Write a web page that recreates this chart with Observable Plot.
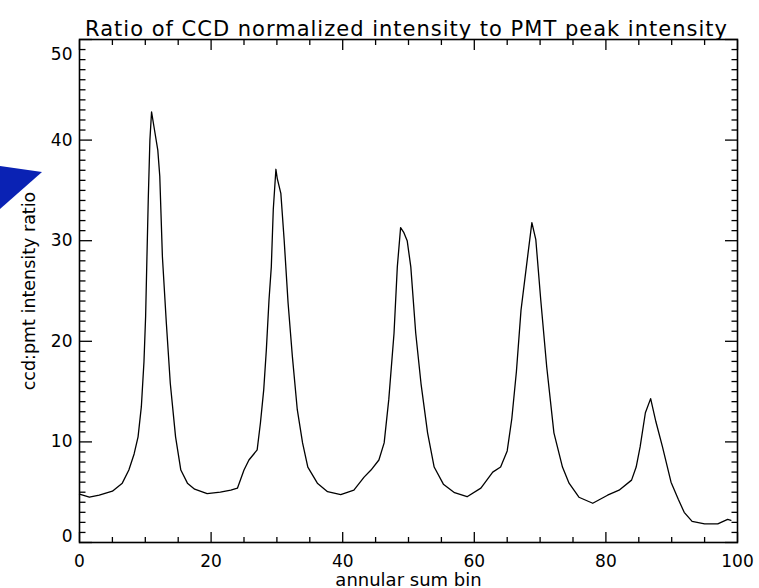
<!DOCTYPE html>
<html>
<head>
<meta charset="utf-8">
<script src="https://cdn.jsdelivr.net/npm/d3@7"></script>
<script src="https://cdn.jsdelivr.net/npm/@observablehq/plot@0.6"></script>
<style>
  html, body { margin: 0; padding: 0; background: #ffffff; }
  #wrap { position: relative; width: 759px; height: 588px; overflow: hidden; }
  #tri { position: absolute; left: 0; top: 0; width: 759px; height: 588px; background: #0a22b4;
         clip-path: polygon(0px 166px, 42px 172px, 0px 209px); z-index: 2; pointer-events: none; }
</style>
</head>
<body>
<div id="wrap"><div id="tri"></div></div>
<script>
const titleText = "Ratio of CCD normalized intensity to PMT peak intensity";
const xLabel = "annular sum bin";
const yLabel = "ccd:pmt intensity ratio";

const xMajor = [0, 20, 40, 60, 80, 100];
const xMinor = [5, 10, 15, 25, 30, 35, 45, 50, 55, 65, 70, 75, 85, 90, 95];
const yMajor = [0, 10, 20, 30, 40, 50];
const yMinor = d3.range(0, 51).filter(v => v % 10 !== 0);

const bins = [0, 1.5, 3, 5, 6.5, 7.5, 8.3, 8.9, 9.4, 9.8, 10.05, 10.25, 10.45, 10.7, 10.95,
  11.3, 11.9, 12.2, 12.6, 13.2, 13.8, 14.6, 15.4, 16.4, 17.5, 19.4, 21.4, 23.0, 24.0,
  25.0, 25.75, 27.0, 27.5, 28.0, 28.4, 28.8, 29.15, 29.45, 29.85, 30.05, 30.6, 31.1, 31.7,
  32.35, 33.1, 33.9, 34.7, 36.15, 37.7, 39.7, 41.7, 43.25, 44.3, 45.5, 46.3, 47.0, 47.8,
  48.3, 48.8, 49.3, 49.8, 50.35, 51.1, 51.9, 52.9, 53.9, 55.3, 57.0, 58.9, 61.0, 62.8,
  64.0, 65.0, 65.7, 66.4, 67.1, 68.1, 68.75, 69.35, 70.1, 71.0, 72.1, 73.4, 74.4, 75.9,
  78.0, 80.25, 82.0, 83.9, 84.6, 85.2, 86.0, 86.8, 87.6, 88.6, 89.9, 91.0, 91.9, 93.1,
  95.0, 97.0, 98.5, 99.0];
const ratios = [4.8, 4.5, 4.7, 5.1, 5.9, 7.2, 8.8, 10.5, 13.5, 18.0, 22.5, 28.4, 34.1, 40.0, 42.8,
  41.4, 39.0, 36.4, 28.4, 21.8, 15.8, 10.5, 7.2, 5.9, 5.3, 4.85, 5.0, 5.2, 5.4,
  7.2, 8.2, 9.2, 11.9, 15.2, 19.2, 24.1, 27.4, 33.1, 37.1, 36.2, 34.7, 30.1, 23.8,
  18.5, 13.2, 9.9, 7.5, 5.9, 5.05, 4.75, 5.2, 6.5, 7.2, 8.2, 9.9, 14.2, 20.8,
  27.4, 31.3, 30.8, 30.0, 27.4, 20.8, 15.8, 10.9, 7.5, 5.8, 4.95, 4.55, 5.4, 7.0,
  7.5, 9.1, 12.3, 17.0, 23.1, 28.4, 31.8, 30.1, 24.1, 17.5, 10.9, 7.5, 5.9, 4.5,
  3.9, 4.7, 5.2, 6.2, 7.5, 9.5, 12.9, 14.3, 12.0, 9.5, 6.0, 4.3, 3.0, 2.1,
  1.85, 1.85, 2.3, 2.2];

const points = bins.map((b, i) => ({bin: b, ratio: ratios[i]}));

const font = "DejaVu Sans";
const tickCommon = {fill: "none", label: null, stroke: "black", strokeWidth: 1.3};
const textCommon = {tickSize: 0, label: null, fontSize: 17, fill: "black"};

const chart = Plot.plot({
  width: 759,
  height: 588,
  marginLeft: 79,
  marginRight: 22,
  marginTop: 39,
  marginBottom: 46,
  style: {fontFamily: font, fontSize: "17px", background: "transparent", color: "black"},
  x: {domain: [0, 100], axis: null},
  y: {domain: [0, 50], axis: null},
  marks: [
    Plot.frame({stroke: "black", strokeWidth: 1.6}),
    // inward ticks, bottom / top
    Plot.axisX({anchor: "bottom", ticks: xMajor, tickSize: 10, dy: -10, ...tickCommon}),
    Plot.axisX({anchor: "bottom", ticks: xMinor, tickSize: 5, dy: -5, ...tickCommon}),
    Plot.axisX({anchor: "top", ticks: xMajor, tickSize: 10, dy: 10, ...tickCommon}),
    Plot.axisX({anchor: "top", ticks: xMinor, tickSize: 5, dy: 5, ...tickCommon}),
    // inward ticks, left / right
    Plot.axisY({anchor: "left", ticks: yMajor, tickSize: 13, dx: 13, ...tickCommon}),
    Plot.axisY({anchor: "left", ticks: yMinor, tickSize: 6.5, dx: 6.5, ...tickCommon}),
    Plot.axisY({anchor: "right", ticks: yMajor, tickSize: 13, dx: -13, ...tickCommon}),
    Plot.axisY({anchor: "right", ticks: yMinor, tickSize: 6.5, dx: -6.5, ...tickCommon}),
    // tick labels
    Plot.axisX({anchor: "bottom", ticks: xMajor, tickPadding: 12, tickFormat: d => String(d), ...textCommon}),
    Plot.axisY({anchor: "left", ticks: [10, 20, 30, 40], tickPadding: 7, tickFormat: d => String(d), ...textCommon}),
    Plot.axisY({anchor: "left", ticks: [50], tickPadding: 7, dy: 15, tickFormat: d => String(d), ...textCommon}),
    Plot.axisY({anchor: "left", ticks: [0], tickPadding: 7, dy: -6, tickFormat: d => String(d), ...textCommon}),
    // data
    Plot.line(points, {x: "bin", y: "ratio", stroke: "black", strokeWidth: 1.3}),
    // title and axis labels
    Plot.text([titleText], {frameAnchor: "top", textAnchor: "middle", lineAnchor: "bottom", dy: -4, dx: -2,
      fontSize: 21, fill: "black"}),
    Plot.text([xLabel], {frameAnchor: "bottom", textAnchor: "middle", lineAnchor: "bottom", dy: 43, fontSize: 18, fill: "black"}),
    Plot.text([yLabel], {frameAnchor: "left", textAnchor: "middle", rotate: -90, dx: -50, fontSize: 17.5, fill: "black"})
  ]
});
d3.select(chart).selectAll("text")
  .filter(function () { return this.textContent === titleText; })
  .attr("letter-spacing", "1px");
document.getElementById("wrap").appendChild(chart);
</script>
</body>
</html>
